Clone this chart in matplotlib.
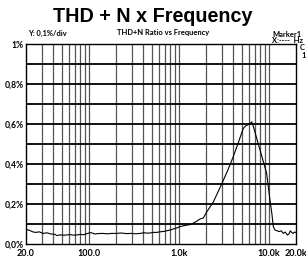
import numpy as np
import matplotlib
matplotlib.use("Agg")
import matplotlib.pyplot as plt
from matplotlib.ticker import FixedLocator, NullFormatter

# THD+N (%), frequency in Hz
FREQ = [20, 22, 24, 26, 28, 31, 34, 38, 42, 44, 48, 52, 56, 62, 68, 75, 82, 87, 95,
        105, 117, 125, 140, 160, 180, 203, 230, 260, 300, 330, 370, 410, 460, 520,
        566, 620, 680, 731, 800, 880, 944, 1028, 1150, 1330, 1390, 1550, 1716, 1868,
        2036, 2410, 2990, 3500, 4020, 4600, 5190, 5500, 5750, 6100, 6440, 6800,
        7300, 7960, 8700, 9440, 10280, 10800, 11190, 11690, 12330, 13000, 13700,
        14450, 15200, 16000, 16700, 17300, 17920, 18600, 19300, 20000]
THDN = [0.073, 0.068, 0.060, 0.058, 0.061, 0.053, 0.056, 0.050, 0.048, 0.042, 0.046,
        0.044, 0.045, 0.047, 0.044, 0.046, 0.048, 0.046, 0.052, 0.057, 0.050, 0.052,
        0.053, 0.051, 0.053, 0.053, 0.055, 0.052, 0.053, 0.051, 0.053, 0.056, 0.054,
        0.058, 0.058, 0.061, 0.063, 0.066, 0.070, 0.076, 0.080, 0.087, 0.092, 0.097,
        0.100, 0.112, 0.125, 0.130, 0.160, 0.210, 0.300, 0.370, 0.437, 0.510, 0.578,
        0.590, 0.595, 0.600, 0.611, 0.580, 0.530, 0.470, 0.410, 0.353, 0.220, 0.150,
        0.087, 0.070, 0.066, 0.062, 0.066, 0.053, 0.060, 0.045, 0.050, 0.066, 0.058,
        0.053, 0.060, 0.057]

Y_TICKS = [0.0, 0.2, 0.4, 0.6, 0.8, 1.0]
Y_LABELS = ["0,0%", "0,2%", "0,4%", "0,6%", "0,8%", "1%"]
X_TICKS = [20, 100, 1000, 10000, 20000]
X_LABELS = ["20.0", "100.0", "1.0k", "10.0k", "20.0k"]

FONT = "Lato"
SMALL = 5.4

fig = plt.figure(figsize=(3.06, 2.59), dpi=100)
ax = fig.add_axes([26 / 306, 15 / 259, 270 / 306, 200 / 259])

# vertical log grid (grey) and horizontal 0.1%/div grid (black)
vlines = [m * 10 ** e for e in range(1, 5) for m in range(1, 10)
          if 20 < m * 10 ** e < 20000]
for f in vlines:
    ax.axvline(f, color="#555555", lw=0.9, zorder=1)
for y in np.arange(0.1, 1.0, 0.1):
    ax.axhline(y, color="black", lw=1.3, zorder=1)

ax.plot(FREQ, THDN, color="black", lw=0.8, zorder=3)

ax.set_xscale("log")
ax.set_xlim(20, 20000)
ax.set_ylim(0, 1.0)
ax.xaxis.set_major_locator(FixedLocator(X_TICKS))
ax.xaxis.set_minor_locator(FixedLocator([]))
ax.xaxis.set_minor_formatter(NullFormatter())
ax.set_xticks(X_TICKS)
ax.set_xticklabels(X_LABELS, fontfamily=FONT, fontweight="bold", fontsize=6.5)
ax.set_yticks(Y_TICKS)
ax.set_yticklabels(Y_LABELS, fontfamily=FONT, fontweight="bold", fontsize=6.2)
ax.tick_params(axis="y", length=0, pad=1.5)
ax.tick_params(axis="x", length=0, pad=3.5)
for s in ax.spines.values():
    s.set_color("black")
    s.set_linewidth(1.0)

fig.text(0.5, 1 - 17 / 259, "THD + N x Frequency", ha="center", va="center",
         fontfamily="Liberation Sans", fontweight="bold", fontsize=14.2)
fig.text(47 / 306, 1 - 33 / 259, "Y: 0,1%/div", ha="center", va="center",
         fontfamily=FONT, fontweight="bold", fontsize=SMALL)
fig.text(163 / 306, 1 - 33 / 259, "THD+N Ratio vs Frequency", ha="center", va="center",
         fontfamily=FONT, fontweight="bold", fontsize=SMALL)
fig.text(272 / 306, 1 - 34.5 / 259, "Marker1", ha="left", va="center",
         fontfamily=FONT, fontweight="bold", fontsize=SMALL)
fig.text(272 / 306, 1 - 40.5 / 259, "X:----  Hz", ha="left", va="center",
         fontfamily=FONT, fontweight="bold", fontsize=SMALL)
fig.text(299.5 / 306, 1 - 48 / 259, "C", ha="left", va="center",
         fontfamily=FONT, fontweight="bold", fontsize=SMALL)
fig.text(301 / 306, 1 - 56 / 259, "1", ha="left", va="center",
         fontfamily=FONT, fontweight="bold", fontsize=SMALL)

fig.savefig("out.png", dpi=100)
